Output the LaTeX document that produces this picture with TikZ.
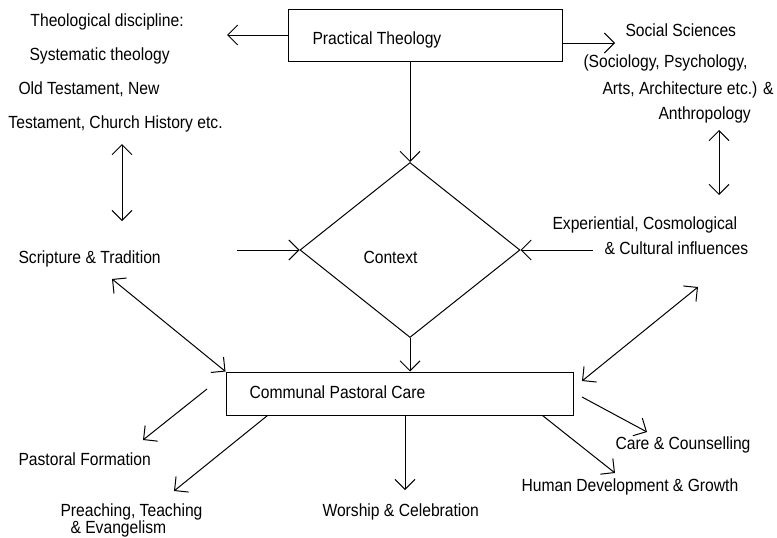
\documentclass[tikz,border=0pt]{standalone}
\usepackage{fontspec}
\setmainfont[FakeStretch=0.89]{Liberation Sans}
\usetikzlibrary{arrows.meta, positioning, calc, shapes.geometric}

\begin{document}
\begin{tikzpicture}[x=1pt, y=-1pt, line width=1pt,
  txt/.style={anchor=base west, inner sep=0pt, font=\fontsize{17.6}{20}\selectfont},
  box/.style={draw, rectangle, inner sep=0pt},
  ctxbox/.style={draw, diamond, inner sep=0pt, minimum width=220pt, minimum height=175pt},
  arr/.style={-{Straight Barb[length=10pt,width=20pt]}},
  darr/.style={{Straight Barb[length=10pt,width=20pt]}-{Straight Barb[length=10pt,width=20pt]}}]
  \useasboundingbox (0,0) rectangle (777,538);
  % Boxes
  \node[box, minimum width=274pt, minimum height=52pt] (pt) at (425,35) {};
  \node[ctxbox] (ctx) at (410,250) {};
  \node[box, minimum width=347pt, minimum height=43pt] (cpc) at (399.5,393.5) {};
  % Texts
  \node[txt] (ptText) at (312,44) {Practical Theology};
  \node[txt] (ctxText) at (363,263) {Context};
  \node[txt] (cpcText) at (249,398) {Communal Pastoral Care};
  \node[txt] (td1) at (30,27) {Theological discipline:};
  \node[txt] (td2) at (29,60) {Systematic theology};
  \node[txt] (td3) at (18,94) {Old Testament, New};
  \node[txt] (td4) at (8,128) {Testament, Church History etc.};
  \node[txt] (ss1) at (625,36) {Social Sciences};
  \node[txt] (ss2) at (583,67) {(Sociology, Psychology,};
  \node[txt] (ss3) at (602,94) {Arts, Architecture etc.) \&};
  \node[txt] (ss4) at (658,119) {Anthropology};
  \node[txt] (st) at (18,263) {Scripture \& Tradition};
  \node[txt] (ex1) at (552,229) {Experiential, Cosmological};
  \node[txt] (ex2) at (604,254) {\& Cultural influences};
  \node[txt] (pf) at (18,465) {Pastoral Formation};
  \node[txt] (pr1) at (60,516) {Preaching, Teaching};
  \node[txt] (pr2) at (70,533) {\& Evangelism};
  \node[txt] (ws) at (322,516) {Worship \& Celebration};
  \node[txt] (cc) at (615,449) {Care \& Counselling};
  \node[txt] (hd) at (521,491) {Human Development \& Growth};
  % Free ends
  \coordinate (tdEnd) at (227,35);
  \coordinate (ssEnd) at (615,43);
  \coordinate (stStart) at (237,250);
  \coordinate (exStart) at (593,250);
  \coordinate (tdUp) at (122,144);
  \coordinate (tdDown) at (122,221);
  \coordinate (ssUp) at (719,130);
  \coordinate (ssDown) at (719,195);
  \coordinate (stTip) at (112,279);
  \coordinate (exTip) at (698,287);
  \coordinate (cpcTip) at (582,381);
  \coordinate (pfStart) at (207,389);
  \coordinate (pfEnd) at (143,440);
  \coordinate (prEnd) at (174,491);
  \coordinate (wsEnd) at (405,490);
  \coordinate (ccStart) at (582,397);
  \coordinate (ccEnd) at (647,432);
  \coordinate (hdEnd) at (615,473);
  % Practical Theology out
  \draw[arr] (pt.west) -- (tdEnd);
  \draw[arr] ([yshift=-8pt]pt.east) -- (ssEnd);
  \draw[arr] (ctx.north |- pt.south) -- (ctx.north);
  % into Context
  \draw[arr] (stStart) -- (ctx.west);
  \draw[arr] (exStart) -- (ctx.east);
  \draw[arr] (ctx.south) -- (ctx.south |- cpc.north);
  % two way
  \draw[darr] (tdUp) -- (tdDown);
  \draw[darr] (ssUp) -- (ssDown);
  \draw[darr] (stTip) -- (cpc.north west);
  \draw[darr] (exTip) -- (cpcTip);
  % Communal Pastoral Care out
  \draw[arr] (pfStart) -- (pfEnd);
  \draw[arr] ([xshift=42pt]cpc.south west) -- (prEnd);
  \draw[arr] (cpc.south -| wsEnd) -- (wsEnd);
  \draw[arr] (ccStart) -- (ccEnd);
  \draw[arr] ([xshift=-31pt]cpc.south east) -- (hdEnd);
\end{tikzpicture}
\end{document}
